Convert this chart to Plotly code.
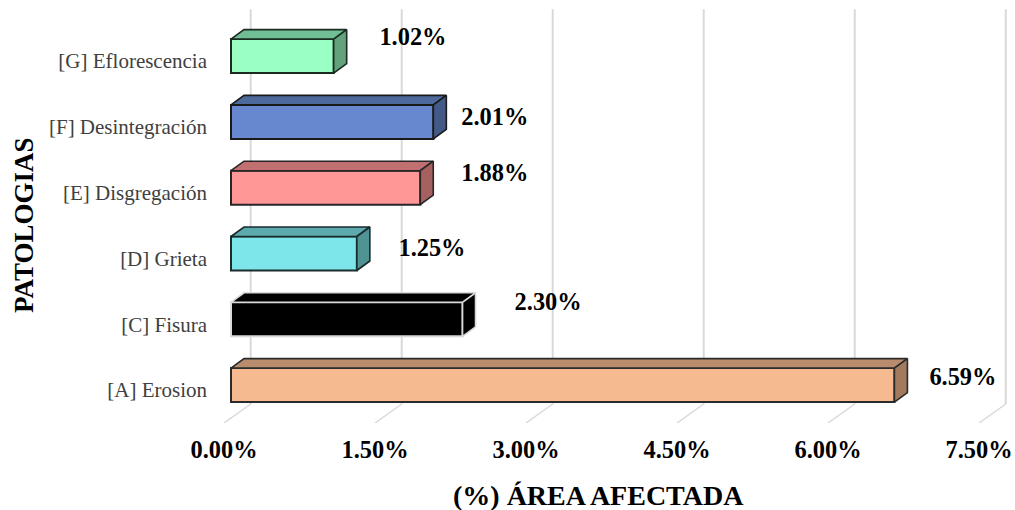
import plotly.graph_objects as go

categories = ["[A] Erosion", "[C] Fisura", "[D] Grieta", "[E] Disgregación", "[F] Desintegración", "[G] Eflorescencia"]
values = [6.59, 2.30, 1.25, 1.88, 2.01, 1.02]
value_labels = ["6.59%", "2.30%", "1.25%", "1.88%", "2.01%", "1.02%"]
x_ticks = [0, 1.5, 3, 4.5, 6, 7.5]
x_tick_labels = ["0.00%", "1.50%", "3.00%", "4.50%", "6.00%", "7.50%"]

front_colors = ["#F5BA8F", "#000000", "#7CE6EA", "#FF9797", "#6788CE", "#99FFC4"]
top_colors = ["#B98C6D", "#000000", "#5CAAAE", "#C07070", "#4E6A9D", "#70BF94"]
side_colors = ["#A27B5F", "#000000", "#4F9395", "#A56060", "#435A88", "#63A27C"]
edge_colors = ["#2B2B2B", "#D9D9D9", "#1A2B2B", "#262626", "#1A1A1A", "#1A2B20"]

# Pixel scale of the value and category axes inside the 1015x510 canvas
PX_X = 100.67
PX_Y = 65.8
LEFT, BOTTOM = 208, 423
ZERO_PX = 224
PLOT_W = 1015 - LEFT

# Oblique projection offsets, converted to axis units
bar_shift_x, bar_shift_y = 7 / PX_X, 5 / PX_Y
depth_x, depth_y = 13 / PX_X, 9.5 / PX_Y
wall_x, wall_y = 26.7 / PX_X, 19 / PX_Y
bar_height = 34 / PX_Y

# Label placement relative to each bar's tip
label_dx = [0.75, 0.92, 0.816, 0.81, 0.68, 0.857]
label_dy = [0.165, 0.305, 0.135, 0.275, 0.12, 0.335]

x_range = [(LEFT - ZERO_PX) / PX_X, (1015 - ZERO_PX) / PX_X]
y_range = [-0.5, -0.5 + BOTTOM / PX_Y]
floor = -0.5
wall_top = 5.5 + wall_y

SERIF = "Liberation Serif"
GRID = "#D9D9D9"

fig = go.Figure()

# Front faces of the blocks
for i, v in enumerate(values):
    fig.add_trace(go.Bar(
        y=[i + bar_shift_y], x=[v], base=bar_shift_x, width=bar_height, orientation="h",
        marker=dict(color=front_colors[i], line=dict(color=edge_colors[i], width=2)),
        showlegend=False, hoverinfo="skip",
    ))

# Top and side faces, projected back from the front face
for i, v in enumerate(values):
    x0 = bar_shift_x
    x1 = bar_shift_x + v
    y_hi = i + bar_shift_y + bar_height / 2
    y_lo = i + bar_shift_y - bar_height / 2
    fig.add_trace(go.Scatter(
        x=[x0, x1, x1 + depth_x, x0 + depth_x, x0],
        y=[y_hi, y_hi, y_hi + depth_y, y_hi + depth_y, y_hi],
        mode="lines", fill="toself", fillcolor=top_colors[i],
        line=dict(color=edge_colors[i], width=1.6), showlegend=False, hoverinfo="skip",
    ))
    fig.add_trace(go.Scatter(
        x=[x1, x1 + depth_x, x1 + depth_x, x1, x1],
        y=[y_hi, y_hi + depth_y, y_lo + depth_y, y_lo, y_hi],
        mode="lines", fill="toself", fillcolor=side_colors[i],
        line=dict(color=edge_colors[i], width=1.6), showlegend=False, hoverinfo="skip",
    ))

# Value labels
fig.add_trace(go.Scatter(
    x=[v + d for v, d in zip(values, label_dx)],
    y=[i + d for i, d in enumerate(label_dy)],
    text=[f"<b>{t}</b>" for t in value_labels], mode="text", textposition="middle center",
    textfont=dict(family=SERIF, size=24.4, color="#000000"),
    showlegend=False, hoverinfo="skip",
))

# Back-wall gridlines and floor diagonals sit underneath the blocks
shapes = []
for t in x_ticks:
    shapes.append(dict(type="line", xref="x", yref="y", layer="below",
                       x0=t + wall_x, x1=t + wall_x, y0=floor + wall_y, y1=wall_top,
                       line=dict(color=GRID, width=2)))
    shapes.append(dict(type="line", xref="x", yref="y", layer="below",
                       x0=t, x1=t + wall_x, y0=floor, y1=floor + wall_y,
                       line=dict(color=GRID, width=1.5)))

# Axis titles placed by canvas position
annotations = [
    dict(text="<b>(%) ÁREA AFECTADA</b>", xref="paper", yref="paper",
         x=(598 - LEFT) / PLOT_W, y=(BOTTOM - 495) / BOTTOM,
         xanchor="center", yanchor="middle", showarrow=False,
         font=dict(family=SERIF, size=28, color="#000000")),
    dict(text="<b>PATOLOGIAS</b>", xref="paper", yref="paper",
         x=(24 - LEFT) / PLOT_W, y=(BOTTOM - 225) / BOTTOM, textangle=-90,
         xanchor="center", yanchor="middle", showarrow=False,
         font=dict(family=SERIF, size=27, color="#000000")),
]

fig.update_layout(
    width=1015, height=510, margin=dict(l=LEFT, r=0, t=0, b=510 - BOTTOM, pad=0),
    paper_bgcolor="#FFFFFF", plot_bgcolor="#FFFFFF", shapes=shapes, annotations=annotations,
    showlegend=False, font=dict(family=SERIF),
    xaxis=dict(
        range=x_range, tickmode="array", tickvals=x_ticks,
        ticktext=[f"<b>{t}</b>" for t in x_tick_labels],
        showgrid=False, zeroline=False, showline=False, ticks="outside", ticklen=5,
        tickcolor="rgba(0,0,0,0)",
        tickfont=dict(family=SERIF, size=24.4, color="#000000"),
        automargin=False,
    ),
    yaxis=dict(
        range=y_range, tickmode="array", tickvals=list(range(len(categories))), ticktext=categories,
        showgrid=False, zeroline=False, showline=False, ticks="", ticklen=0,
        tickfont=dict(family=SERIF, size=21, color="#404040"),
        automargin=False,
    ),
)

fig.write_html("out.html")
